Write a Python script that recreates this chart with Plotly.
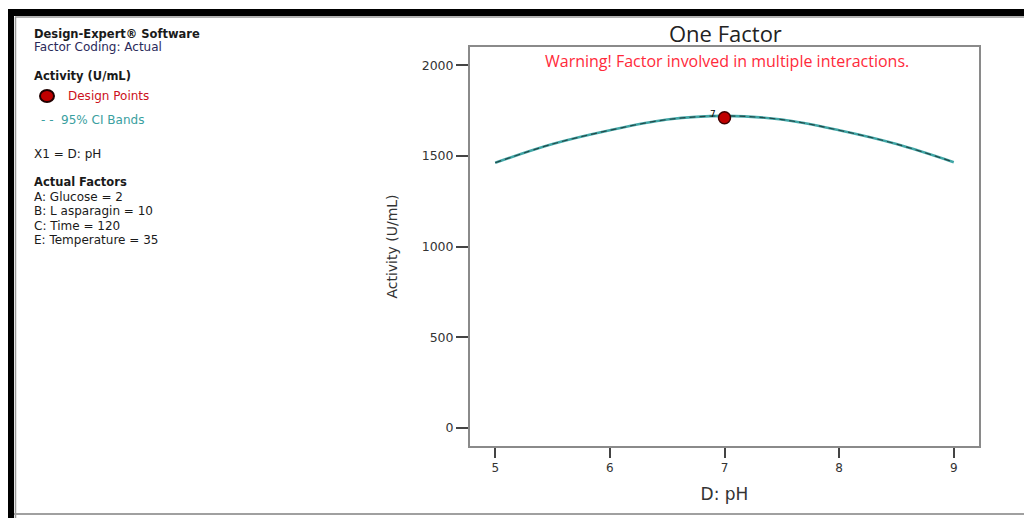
import plotly.graph_objects as go

# ---- data ----
ph_values = [5.0, 5.5, 6.0, 6.5, 7.0, 7.5, 8.0, 8.5, 9.0]
activity_pred = [1462, 1565, 1641, 1700, 1720, 1700, 1641, 1565, 1465]
design_ph = [7.0]
design_activity = [1710]
design_label = ["7"]
x_ticks = [5, 6, 7, 8, 9]
y_ticks = [0, 500, 1000, 1500, 2000]

OFF = 8  # browser body margin
W, H = 1032 - OFF, 518 - OFF
# plot frame in reference pixels: x 470..979, y 47..446
L, R, T, B = 470 - OFF, 1032 - 979, 47 - OFF, 518 - 446
PW, PH = W - L - R, H - T - B


def px(x):
    return (x - OFF - L) / PW


def py(y):
    return (H - B - (y - OFF)) / PH


fig = go.Figure()

fig.add_trace(go.Scatter(x=ph_values, y=activity_pred, mode="lines",
                         line=dict(color="#40a6a6", width=2.6, shape="spline"),
                         showlegend=False, hoverinfo="skip"))
fig.add_trace(go.Scatter(x=ph_values, y=activity_pred, mode="lines",
                         line=dict(color="#244848", width=1.2, dash="6px,4px", shape="spline"),
                         showlegend=False))
fig.add_trace(go.Scatter(x=design_ph, y=design_activity, mode="markers",
                         marker=dict(color="#c00000", size=12, symbol="circle",
                                     line=dict(color="#400000", width=1.5)),
                         showlegend=False))

ann = []
for xv, yv, t in zip(design_ph, design_activity, design_label):
    ann.append(dict(x=xv, y=yv, xref="x", yref="y", text=t, showarrow=False, xshift=-12, yshift=4,
                    font=dict(size=9, color="#000000", family="DejaVu Sans")))

shapes = [
    dict(type="rect", xref="paper", yref="paper", x0=px(0), x1=px(1040), y0=py(16), y1=py(9),
         fillcolor="#000000", line=dict(width=0), layer="above"),
    dict(type="rect", xref="paper", yref="paper", x0=px(0), x1=px(14), y0=py(530), y1=py(9),
         fillcolor="#000000", line=dict(width=0), layer="above"),
    dict(type="line", xref="paper", yref="paper", x0=px(15), x1=px(1040), y0=py(17), y1=py(17),
         line=dict(color="#9a9a9a", width=1.5)),
    dict(type="line", xref="paper", yref="paper", x0=px(15.5), x1=px(15.5), y0=py(530), y1=py(17),
         line=dict(color="#9a9a9a", width=1.5)),
    dict(type="line", xref="paper", yref="paper", x0=px(14), x1=px(1040), y0=py(514), y1=py(514),
         line=dict(color="#a0a0a0", width=2)),
]


def txt(x, y, s, size=12, color="#1a1a1a", bold=False, family="DejaVu Sans"):
    ann.append(dict(x=px(x), y=py(y), xref="paper", yref="paper", text=("<b>%s</b>" % s) if bold else s,
                    showarrow=False, xanchor="left", yanchor="middle",
                    font=dict(size=size, color=color, family=family)))


txt(32, 34, "Design-Expert® Software", size=11.5, bold=True)
txt(32, 47, "Factor Coding: Actual", size=12, color="#2a2a5a")
txt(32, 76, "Activity (U/mL)", size=11.5, bold=True)
txt(66, 96, "Design Points", size=12, color="#cc1020")
txt(39, 120, "- -  95% CI Bands", size=12, color="#3aa0a0")
txt(32, 154, "X1 = D: pH", size=12)
txt(32, 182, "Actual Factors", size=11.5, bold=True)
txt(32, 197, "A: Glucose = 2", size=12)
txt(32, 211, "B: L asparagin = 10", size=12)
txt(32, 226, "C: Time = 120", size=12)
txt(32, 240, "E: Temperature = 35", size=12)

shapes.append(dict(type="circle", xref="paper", yref="paper", x0=px(40), x1=px(54), y0=py(102), y1=py(90),
                   fillcolor="#c00000", line=dict(color="#200000", width=2)))

ann.append(dict(x=px(725), y=py(33), xref="paper", yref="paper", text="One Factor", showarrow=False,
                xanchor="center", yanchor="middle", font=dict(size=22, color="#222222", family="Open Sans")))
ann.append(dict(x=px(727), y=py(61), xref="paper", yref="paper",
                text="Warning! Factor involved in multiple interactions.", showarrow=False,
                xanchor="center", yanchor="middle", font=dict(size=16, color="#ff2a3a", family="Open Sans")))

fig.update_layout(
    width=W, height=H,
    margin=dict(l=L, r=R, t=T, b=B, pad=0),
    paper_bgcolor="white", plot_bgcolor="white",
    shapes=shapes, annotations=ann,
    showlegend=False,
    font=dict(family="DejaVu Sans", color="#333333"),
)
fig.update_xaxes(range=[4.78, 9.22], tickvals=x_ticks, ticks="outside", ticklen=10, tickwidth=1.5,
                 tickcolor="#444444", showgrid=False, zeroline=False, showline=True, linecolor="#8a8a8a",
                 linewidth=2, mirror=True, tickfont=dict(size=12, color="#333333"),
                 title=dict(text="D: pH", font=dict(size=17, color="#333333", family="DejaVu Sans"), standoff=14))
fig.update_yaxes(range=[-100, 2100], tickvals=y_ticks, ticks="outside", ticklen=12, tickwidth=1.5,
                 tickcolor="#444444", showgrid=False, zeroline=False, showline=True, linecolor="#8a8a8a",
                 linewidth=2, mirror=True, tickfont=dict(size=12.5, color="#333333"),
                 title=dict(text="Activity (U/mL)", font=dict(size=14, color="#333333", family="DejaVu Sans"),
                            standoff=21))

fig.write_html("out.html", config={"displayModeBar": False})
